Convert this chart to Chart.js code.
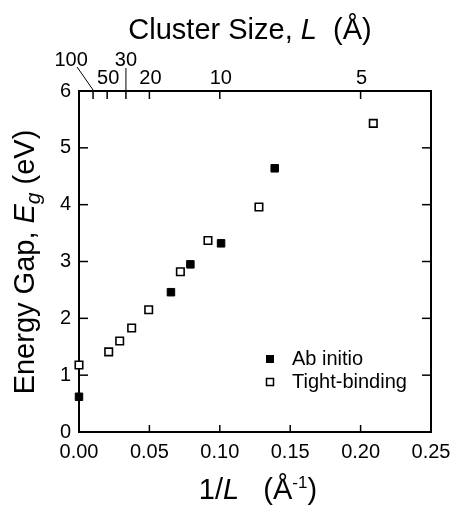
<!DOCTYPE html>
<html>
<head>
<meta charset="utf-8">
<script src="https://cdn.jsdelivr.net/npm/chart.js@4.4.1/dist/chart.umd.min.js"></script>
<style>
  html, body { margin: 0; padding: 0; background: #fff; }
</style>
</head>
<body>
<canvas id="gapChart" width="455" height="505"></canvas>
<script>
// data (x = 1/L in 1/Angstrom, y = Eg in eV)
const abInitioX = [0.0, 0.0653, 0.0791, 0.1009, 0.139];
const abInitioY = [0.62, 2.46, 2.95, 3.32, 4.64];
const tightX = [0.0, 0.0211, 0.0289, 0.0374, 0.0495, 0.0720, 0.0916, 0.1278, 0.209];
const tightY = [1.18, 1.41, 1.60, 1.83, 2.15, 2.82, 3.37, 3.96, 5.43];
const seriesNames = ["Ab initio", "Tight-binding"];

const xTicks = [0, 0.05, 0.10, 0.15, 0.20, 0.25];
const yTicks = [0, 1, 2, 3, 4, 5, 6];
const topTicksL = [100, 50, 30, 20, 10, 5]; // cluster size L (Angstrom)

const FONT = "'Liberation Sans', Arial, Helvetica, sans-serif";

function toPoints(xs, ys) {
  return xs.map((x, i) => ({ x: x, y: ys[i] }));
}

function drawRuns(ctx, runs, x, y) {
  let total = 0;
  runs.forEach(r => {
    ctx.font = r.font;
    r.w = ctx.measureText(r.text).width;
    total += r.w;
  });
  let cx = x - total / 2;
  runs.forEach(r => {
    ctx.font = r.font;
    ctx.fillText(r.text, cx, y + (r.dy || 0));
    cx += r.w;
  });
}

function line(ctx, x1, y1, x2, y2) {
  ctx.beginPath();
  ctx.moveTo(x1, y1);
  ctx.lineTo(x2, y2);
  ctx.stroke();
}

const decor = {
  id: "decor",
  beforeDatasetsDraw(chart) {
    const ctx = chart.ctx;
    const a = chart.chartArea;
    const xs = chart.scales.x, ys = chart.scales.y;
    ctx.save();
    ctx.strokeStyle = "#000";
    ctx.lineWidth = 2;
    ctx.strokeRect(a.left, a.top, a.right - a.left, a.bottom - a.top);

    ctx.lineWidth = 1.5;
    yTicks.slice(1, -1).forEach(v => {
      const py = ys.getPixelForValue(v);
      line(ctx, a.left, py, a.left + 9, py);
      line(ctx, a.right - 9, py, a.right, py);
    });
    xTicks.slice(1, -1).forEach(v => {
      const px = xs.getPixelForValue(v);
      line(ctx, px, a.bottom, px, a.bottom - 7);
    });
    topTicksL.forEach(L => {
      const px = xs.getPixelForValue(1 / L);
      line(ctx, px, a.top, px, a.top + 8);
    });
    ctx.restore();
  },
  afterDraw(chart) {
    const ctx = chart.ctx;
    const a = chart.chartArea;
    const xs = chart.scales.x;
    ctx.save();
    ctx.fillStyle = "#000";
    ctx.strokeStyle = "#000";

    // top axis labels (cluster size)
    ctx.font = "20px " + FONT;
    ctx.textAlign = "center";
    ctx.textBaseline = "middle";
    topTicksL.forEach(L => {
      const px = xs.getPixelForValue(1 / L);
      if (L === 100) {
        ctx.fillText(String(L), px - 22, a.top - 31);
        ctx.lineWidth = 1;
        line(ctx, px - 16, a.top - 24, px, a.top - 1);
      } else if (L === 30) {
        ctx.fillText(String(L), px, a.top - 31);
        ctx.lineWidth = 1;
        line(ctx, px, a.top - 23, px, a.top);
      } else {
        ctx.fillText(String(L), px + 1, a.top - 13);
      }
    });

    // axis titles
    ctx.textAlign = "left";
    ctx.textBaseline = "alphabetic";
    const big = "29px " + FONT;
    const bigIt = "italic 29px " + FONT;
    drawRuns(ctx, [
      { text: "Cluster Size, ", font: big },
      { text: "L", font: bigIt },
      { text: "  (\u00C5)", font: big }
    ], 250, 39);

    drawRuns(ctx, [
      { text: "1/", font: big },
      { text: "L", font: bigIt },
      { text: "   (\u00C5", font: big },
      { text: "-1", font: "17px " + FONT, dy: -11 },
      { text: ")", font: big }
    ], 258, 499);

    ctx.save();
    ctx.translate(34, 262);
    ctx.rotate(-Math.PI / 2);
    drawRuns(ctx, [
      { text: "Energy Gap, ", font: big },
      { text: "E", font: bigIt },
      { text: "g", font: "italic 21px " + FONT, dy: 6 },
      { text: " (eV)", font: big }
    ], 0, 0);
    ctx.restore();

    // legend
    const lx = a.left + 191;
    const rows = [a.top + 268, a.top + 291];
    ctx.font = "20px " + FONT;
    ctx.textBaseline = "middle";
    seriesNames.forEach((name, i) => {
      const y = rows[i];
      if (i === 0) {
        ctx.fillRect(lx - 4, y - 4, 8, 8);
      } else {
        ctx.lineWidth = 1.5;
        ctx.strokeRect(lx - 3.5, y - 3.5, 7, 7);
      }
      ctx.fillText(name, lx + 22, y);
    });
    ctx.restore();
  }
};

new Chart(document.getElementById("gapChart"), {
  type: "scatter",
  data: {
    datasets: [
      {
        label: seriesNames[1],
        data: toPoints(tightX, tightY),
        pointStyle: "rect",
        pointRadius: 5.3,
        backgroundColor: "#fff",
        borderColor: "#000",
        borderWidth: 1.6,
        clip: false
      },
      {
        label: seriesNames[0],
        data: toPoints(abInitioX, abInitioY),
        pointStyle: "rect",
        pointRadius: 5.3,
        backgroundColor: "#000",
        borderColor: "#000",
        borderWidth: 1,
        clip: false
      }
    ]
  },
  options: {
    responsive: false,
    animation: false,
    layout: { padding: { top: 91, right: 24, left: 0, bottom: 0 } },
    plugins: {
      legend: { display: false },
      tooltip: { enabled: false }
    },
    scales: {
      x: {
        type: "linear",
        min: 0,
        max: 0.25,
        afterBuildTicks: s => { s.ticks = xTicks.map(v => ({ value: v })); },
        afterFit: s => {
          s.height = 73;
          s.paddingLeft = 0;
          s.paddingRight = 0;
        },
        ticks: {
          callback: v => v.toFixed(2),
          font: { family: FONT, size: 20 },
          color: "#000",
          padding: 8,
          maxRotation: 0,
          autoSkip: false
        },
        grid: { display: false, drawTicks: false },
        border: { display: false }
      },
      y: {
        type: "linear",
        min: 0,
        max: 6,
        afterBuildTicks: s => { s.ticks = yTicks.map(v => ({ value: v })); },
        afterFit: s => { s.width = 79; },
        ticks: {
          callback: v => String(v),
          font: { family: FONT, size: 20 },
          color: "#000",
          padding: 8
        },
        grid: { display: false, drawTicks: false },
        border: { display: false }
      }
    }
  },
  plugins: [decor]
});
</script>
</body>
</html>
